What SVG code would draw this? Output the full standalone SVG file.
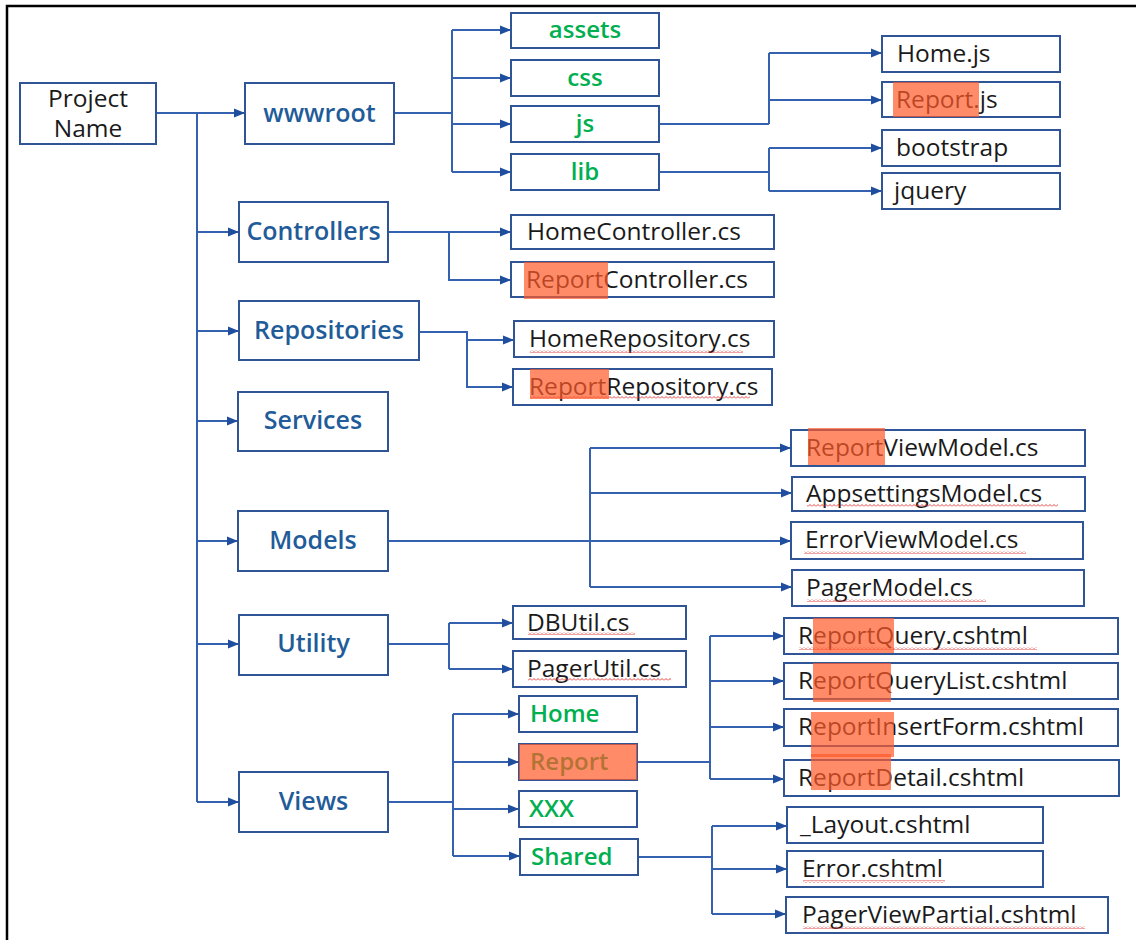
<svg xmlns="http://www.w3.org/2000/svg" width="1136" height="940" viewBox="0 0 1136 940">
<style>
.box{fill:#fff;stroke:#2F5597;stroke-width:2}
.lbl{font-family:"Open Sans","Noto Sans",sans-serif;font-size:25px;font-weight:600;fill:#1F5C99;text-anchor:middle}
.grn{font-family:"Open Sans","Noto Sans",sans-serif;font-size:24px;font-weight:600;fill:#00B050}
.file{font-family:"Open Sans","Noto Sans",sans-serif;font-size:24.5px;fill:#1a1a1a}
.hl{fill:#FF5A2A;fill-opacity:0.7}
.sq{fill:url(#wave)}
.cn{fill:none;stroke:#3462B0;stroke-width:2}
.ar{fill:none;stroke:#3462B0;stroke-width:2;marker-end:url(#ah)}
</style>
<defs>
<marker id="ah" markerUnits="userSpaceOnUse" markerWidth="12" markerHeight="10" refX="11" refY="5" orient="auto">
<path d="M0,0.5 L11,5 L0,9.5 z" fill="#1F4E9E"/>
</marker>
<pattern id="wave" patternUnits="userSpaceOnUse" width="4" height="3">
<path d="M0,2.5 L2,0.5 L4,2.5" fill="none" stroke="#E03030" stroke-width="0.9"/>
</pattern>
</defs>
<rect width="1136" height="940" fill="#fff"/>
<path d="M7,940 V6 H1136" fill="none" stroke="#000" stroke-width="2.5"/>

<g id="connectors">
<path class="ar" d="M156,113 H245"/>
<path class="cn" d="M197,113 V802"/>
<path class="ar" d="M197,232 H239"/>
<path class="ar" d="M197,331 H239"/>
<path class="ar" d="M197,421 H238"/>
<path class="ar" d="M197,541 H238"/>
<path class="ar" d="M197,644 H239"/>
<path class="ar" d="M197,802 H239"/>
<path class="cn" d="M394,113 H452 M452,30 V172"/>
<path class="ar" d="M452,30 H511"/>
<path class="ar" d="M452,78 H511"/>
<path class="ar" d="M452,124 H511"/>
<path class="ar" d="M452,172 H511"/>
<path class="cn" d="M659,124 H769 M769,53 V124"/>
<path class="ar" d="M769,53 H882"/>
<path class="ar" d="M769,100 H882"/>
<path class="cn" d="M659,172 H769 M769,148 V191"/>
<path class="ar" d="M769,148 H882"/>
<path class="ar" d="M769,191 H882"/>
<path class="ar" d="M388,232 H511"/>
<path class="ar" d="M449,232 V280 H511"/>
<path class="ar" d="M419,332 H467 V387 H513"/>
<path class="ar" d="M467,340 H514"/>
<path class="ar" d="M388,541 H791" stroke-width="2.5"/>
<path class="cn" d="M590,448 V587"/>
<path class="ar" d="M590,448 H791"/>
<path class="ar" d="M590,493 H792"/>
<path class="ar" d="M590,587 H792"/>
<path class="cn" d="M388,644 H449 M449,623 V669"/>
<path class="ar" d="M449,623 H513"/>
<path class="ar" d="M449,669 H513"/>
<path class="cn" d="M388,802 H453 M453,714 V856"/>
<path class="ar" d="M453,714 H519"/>
<path class="ar" d="M453,762 H519"/>
<path class="ar" d="M453,809 H519"/>
<path class="ar" d="M453,856 H520"/>
<path class="cn" d="M637,762 H710 M710,636 V779"/>
<path class="ar" d="M710,636 H784"/>
<path class="ar" d="M710,681 H784"/>
<path class="ar" d="M710,727 H784"/>
<path class="ar" d="M710,779 H784"/>
<path class="cn" d="M638,857 H712 M712,826 V914"/>
<path class="ar" d="M712,826 H787"/>
<path class="ar" d="M712,869 H787"/>
<path class="ar" d="M712,914 H786"/>
</g>

<g id="project">
<rect class="box" x="20" y="83" width="136" height="61"/>
<text class="file" x="88" y="107" text-anchor="middle" font-size="25">Project</text>
<text class="file" x="88" y="137" text-anchor="middle" font-size="25">Name</text>
</g>
<g id="wwwroot"><rect class="box" x="245" y="83" width="149" height="61"/><text class="lbl" x="319.5" y="122">wwwroot</text></g>
<g id="controllers"><rect class="box" x="239" y="202" width="149" height="60"/><text class="lbl" x="313.5" y="240">Controllers</text></g>
<g id="repositories"><rect class="box" x="239" y="301" width="180" height="59"/><text class="lbl" x="329" y="339">Repositories</text></g>
<g id="services"><rect class="box" x="238" y="392" width="150" height="59"/><text class="lbl" x="313" y="429">Services</text></g>
<g id="models"><rect class="box" x="238" y="511" width="150" height="60"/><text class="lbl" x="313" y="549">Models</text></g>
<g id="utility"><rect class="box" x="239" y="615" width="149" height="60"/><text class="lbl" x="313.5" y="652">Utility</text></g>
<g id="views"><rect class="box" x="239" y="772" width="149" height="60"/><text class="lbl" x="313.5" y="810">Views</text></g>

<g id="assets"><rect class="box" x="511" y="13" width="148" height="35"/><text class="grn" x="585" y="38" text-anchor="middle">assets</text></g>
<g id="css"><rect class="box" x="511" y="60" width="148" height="36"/><text class="grn" x="585" y="86" text-anchor="middle">css</text></g>
<g id="js"><rect class="box" x="511" y="106" width="148" height="36"/><text class="grn" x="585" y="132" text-anchor="middle">js</text></g>
<g id="lib"><rect class="box" x="511" y="154" width="148" height="36"/><text class="grn" x="585" y="180" text-anchor="middle">lib</text></g>

<g id="homejs"><rect class="box" x="882" y="36" width="178" height="36"/><text class="file" x="897" y="62">Home.js</text></g>
<g id="reportjs"><rect class="box" x="882" y="82" width="178" height="35"/><text class="file" x="896" y="108">Report.js</text><rect class="hl" x="893" y="82" width="86" height="35"/></g>
<g id="bootstrap"><rect class="box" x="882" y="130" width="178" height="36"/><text class="file" x="896" y="156">bootstrap</text></g>
<g id="jquery"><rect class="box" x="882" y="173" width="178" height="36"/><text class="file" x="894" y="199">jquery</text></g>

<g id="homecontroller"><rect class="box" x="511" y="215" width="263" height="34"/><text class="file" x="527" y="240">HomeController.cs</text></g>
<g id="reportcontroller"><rect class="box" x="511" y="262" width="263" height="35"/><text class="file" x="526" y="288">ReportController.cs</text><rect class="hl" x="524" y="262" width="84" height="37"/></g>

<g id="homerepository"><rect class="box" x="514" y="321" width="260" height="36"/><text class="file" x="529" y="347">HomeRepository.cs</text><rect class="sq" x="530" y="350" width="213" height="3"/></g>
<g id="reportrepository"><rect class="box" x="513" y="369" width="259" height="36"/><text class="file" x="529" y="395">ReportRepository.cs</text><rect class="sq" x="530" y="396" width="220" height="3"/><rect class="hl" x="530" y="369" width="79" height="30"/></g>

<g id="reportviewmodel"><rect class="box" x="791" y="430" width="294" height="36"/><text class="file" x="806" y="456">ReportViewModel.cs</text><rect class="hl" x="808" y="428" width="77" height="37"/></g>
<g id="appsettingsmodel"><rect class="box" x="792" y="477" width="293" height="34"/><text class="file" x="806" y="502">AppsettingsModel.cs</text><rect class="sq" x="807" y="504" width="251" height="3"/></g>
<g id="errorviewmodel"><rect class="box" x="791" y="522" width="292" height="37"/><text class="file" x="805" y="548">ErrorViewModel.cs</text><rect class="sq" x="804" y="551" width="222" height="3"/></g>
<g id="pagermodel"><rect class="box" x="792" y="570" width="292" height="36"/><text class="file" x="806" y="596">PagerModel.cs</text><rect class="sq" x="807" y="599" width="179" height="3"/></g>

<g id="dbutil"><rect class="box" x="513" y="606" width="173" height="33"/><text class="file" x="527" y="631">DBUtil.cs</text><rect class="sq" x="528" y="632" width="107" height="3"/></g>
<g id="pagerutil"><rect class="box" x="513" y="651" width="173" height="36"/><text class="file" x="527" y="677">PagerUtil.cs</text><rect class="sq" x="528" y="678" width="143" height="3"/></g>

<g id="home"><rect class="box" x="519" y="696" width="118" height="36"/><text class="grn" x="530" y="722">Home</text></g>
<g id="report"><rect class="box" x="519" y="744" width="118" height="36"/><text class="grn" x="530" y="770">Report</text><rect class="hl" x="519" y="744" width="118" height="36"/></g>
<g id="xxx"><rect class="box" x="519" y="791" width="118" height="36"/><text class="grn" x="529" y="817">XXX</text></g>
<g id="shared"><rect class="box" x="520" y="839" width="118" height="36"/><text class="grn" x="531" y="865">Shared</text></g>

<g id="reportquery"><rect class="box" x="784" y="618" width="334" height="36"/><text class="file" x="798" y="644">ReportQuery.cshtml</text><rect class="sq" x="799" y="647" width="238" height="3"/><rect class="hl" x="813" y="618" width="81" height="35"/></g>
<g id="reportquerylist"><rect class="box" x="784" y="663" width="334" height="36"/><text class="file" x="798" y="689">ReportQueryList.cshtml</text><rect class="hl" x="813" y="663" width="78" height="39"/></g>
<g id="reportinsertform"><rect class="box" x="784" y="709" width="334" height="37"/><text class="file" x="798" y="735">ReportInsertForm.cshtml</text><rect class="hl" x="811" y="712" width="83" height="45"/></g>
<g id="reportdetail"><rect class="box" x="784" y="760" width="335" height="36"/><text class="file" x="798" y="786">ReportDetail.cshtml</text><rect class="hl" x="811" y="754" width="80" height="36"/></g>
<g id="layout"><rect class="box" x="787" y="807" width="256" height="36"/><text class="file" x="800" y="833">_Layout.cshtml</text></g>
<g id="error"><rect class="box" x="787" y="851" width="256" height="36"/><text class="file" x="802" y="877">Error.cshtml</text><rect class="sq" x="803" y="880" width="142" height="3"/></g>
<g id="pagerviewpartial"><rect class="box" x="786" y="897" width="322" height="36"/><text class="file" x="802" y="923">PagerViewPartial.cshtml</text><rect class="sq" x="803" y="926" width="282" height="3"/></g>
</svg>
